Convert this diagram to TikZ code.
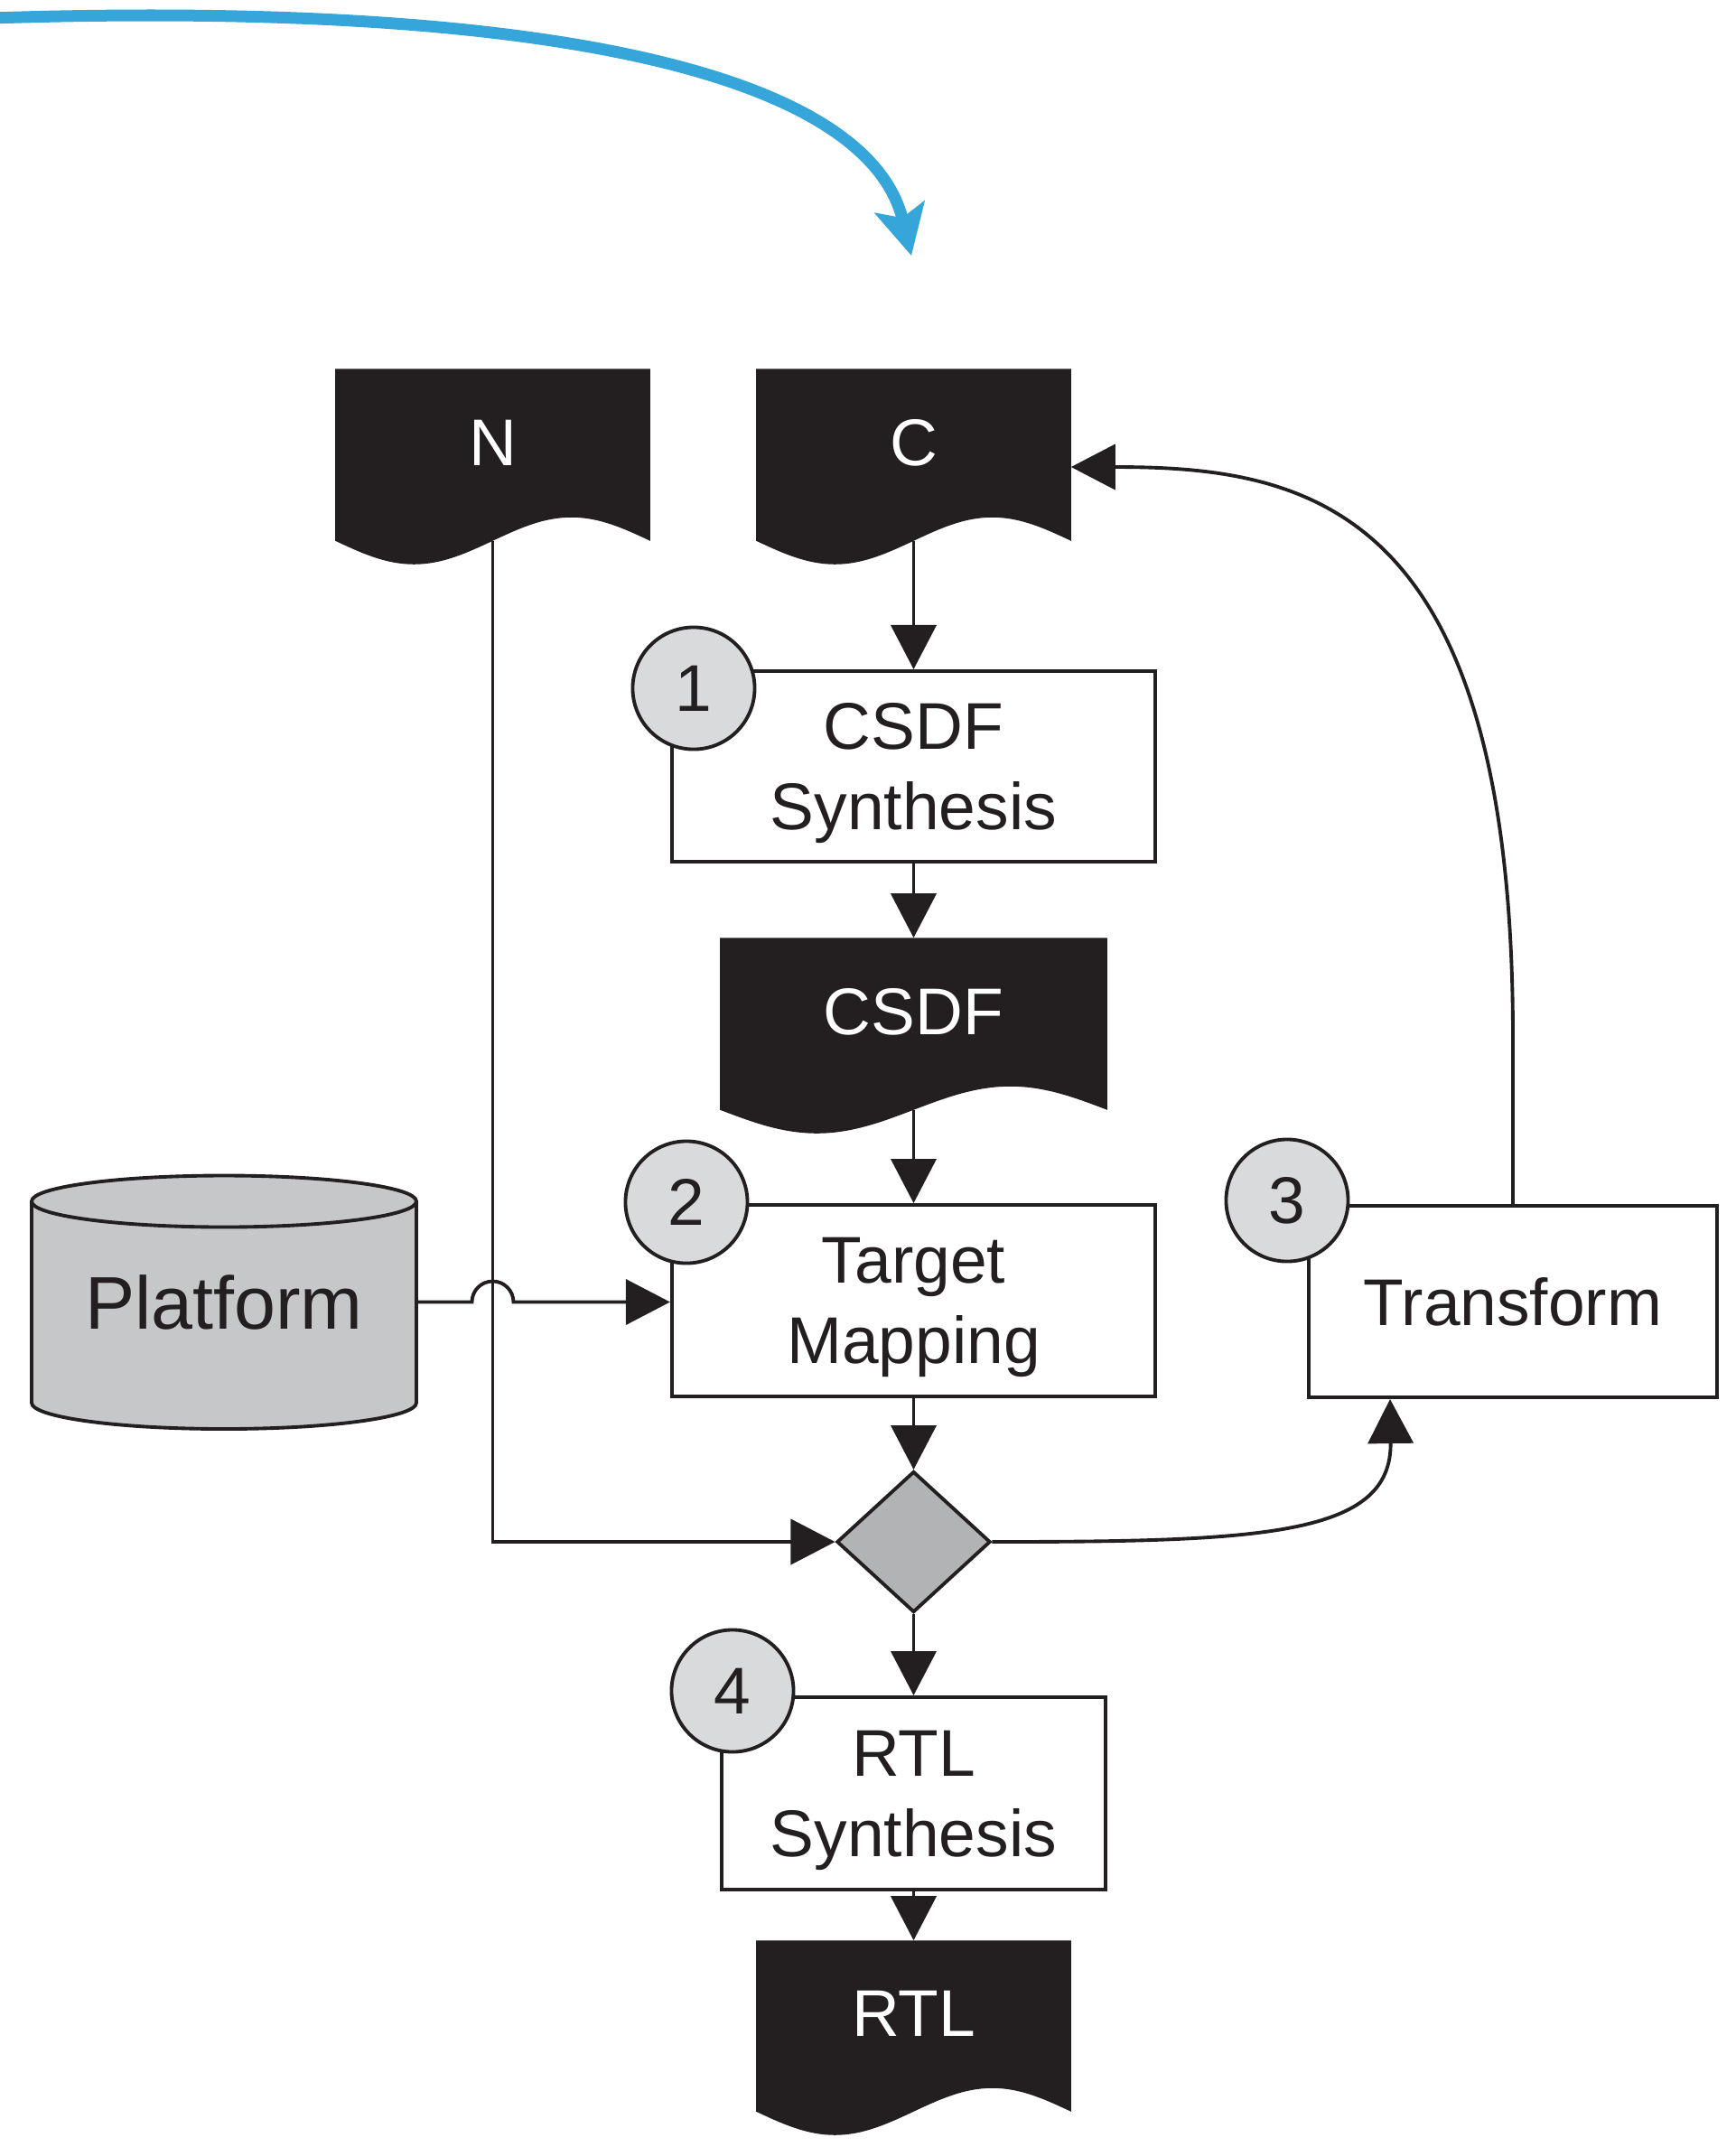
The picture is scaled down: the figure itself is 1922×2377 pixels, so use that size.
\documentclass[tikz,border=0pt]{standalone}
\usepackage{fontspec}
\setmainfont{Liberation Sans}
\usetikzlibrary{arrows.meta,shapes.geometric,backgrounds,calc}

\definecolor{ink}{HTML}{231F20}
\definecolor{badgegray}{HTML}{D9DADB}
\definecolor{decisiongray}{HTML}{B1B3B5}
\definecolor{storegray}{HTML}{C6C7C9}
\definecolor{flowblue}{HTML}{35A5DA}

% black document symbol with a wavy lower edge, under node #1
\newcommand\paperdoc[1]{%
  \fill[ink] (#1.south east) -- (#1.north east) -- (#1.north west) -- (#1.south west)
    sin ($(#1.south west)!0.25!(#1.south east)+(0,26)$)
    cos ($(#1.south west)!0.5!(#1.south east)$)
    sin ($(#1.south west)!0.75!(#1.south east)+(0,-26)$)
    cos (#1.south east) -- cycle;}

\begin{document}
\begin{tikzpicture}[x=0.01cm, y=-0.01cm,
  every node/.style={font=\fontsize{20.8}{25.3}\selectfont, text=ink},
  proc/.style={draw=ink, line width=1.1pt, fill=white, minimum height=2.12cm,
    inner sep=0, align=center},
  twoline/.style={text depth=0cm},
  numbadge/.style={circle, draw=ink, line width=1.1pt, fill=badgegray,
    minimum size=1.35cm, inner sep=0},
  docnode/.style={minimum height=1.89cm, inner sep=0, text=white,
    text height=0.53cm, text depth=0.30cm},
  flow/.style={draw=ink, line width=1.1pt, -{Triangle[length=0.49cm,width=0.5cm]}},
]
\useasboundingbox (0,0) rectangle (1922,2377);

% documents
\node[docnode, minimum width=3.47cm] (N) at (545.5,503.5) {N};
\node[docnode, minimum width=3.47cm] (C) at (1011.5,503.5) {C};
\node[docnode, minimum width=4.27cm] (csdf) at (1011.5,1133.5) {CSDF};
\node[docnode, minimum width=3.47cm, minimum height=1.88cm] (rtl) at (1011.5,2243) {RTL};

% process steps
\node[proc, twoline, minimum width=5.34cm, minimum height=2.11cm] (s1) at (1011.5,848.5) {CSDF\\Synthesis};
\node[proc, twoline, minimum width=5.35cm] (s2) at (1011.5,1440) {Target\\Mapping};
\node[proc, minimum width=4.52cm] (s3) at (1675,1441) {Transform};
\node[proc, twoline, minimum width=4.24cm, minimum height=2.13cm] (s4) at (1011.5,1985.5) {RTL\\Synthesis};

% decision
\node[diamond, draw=ink, line width=1.1pt, fill=decisiongray, aspect=1.09,
  minimum width=1.7cm, minimum height=1.56cm, inner sep=0] (dec) at (1011.5,1707) {};

% platform store
\node[minimum width=4.26cm, minimum height=2.23cm, inner sep=0,
  font=\fontsize{23.5}{28}\selectfont] (plat) at (248,1441.5) {Platform};

% step numbers
\node[numbadge] (b1) at (768,762) {1};
\node[numbadge] (b2) at (760,1331) {2};
\node[numbadge] (b3) at (1425,1329) {3};
\node[numbadge] (b4) at (811,1872) {4};

\begin{scope}[on background layer]
  \paperdoc{N}
  \paperdoc{C}
  \paperdoc{csdf}
  \paperdoc{rtl}
  \path[draw=ink, line width=1.1pt, fill=storegray]
    (35,1330) -- (35,1553) arc[start angle=180, end angle=0, x radius=213, y radius=29]
    -- (461,1330) arc[start angle=0, end angle=-180, x radius=213, y radius=28.5] -- cycle;
  \draw[ink, line width=1.1pt]
    (35,1330) arc[start angle=180, end angle=0, x radius=213, y radius=28.5];
\end{scope}

% main flow
\draw[flow] (C.south) -- (s1.north);
\draw[flow] (s1.south) -- (csdf.north);
\draw[flow] (csdf.south) -- (s2.north);
\draw[flow] (s2.south) -- (dec.north);
\draw[flow] (dec.south) -- (s4.north);
\draw[flow] (s4.south) -- (rtl.north);
\draw[flow] (N.south) |- (dec.west);

% platform input hopping over the N line
\coordinate (hop) at (N.south |- plat.east);
\draw[flow] (plat.east) -- ([xshift=-0.23cm]hop)
  arc[start angle=180, end angle=360, radius=23] -- (s2.west |- plat.east);

% loop back through Transform
\coordinate (s3in) at ([xshift=0.92cm]s3.south west);
\draw[flow] (dec.east) .. controls (1400,1707) and (1541,1700) .. (s3in);
\coordinate (cin) at ([yshift=-0.135cm]C.east);
\draw[flow] (s3.north) -- ++(0,-185) .. controls (1675,560) and (1450,517) .. (cin);

% incoming blue arrow
\coordinate (bs) at (-10,20);
\coordinate (be) at (1009,283);
\draw[flowblue, line width=0.13cm, -{Stealth[length=0.55cm,width=0.56cm,inset=0.12cm]}]
  (bs) .. controls (600,0) and (960,80) .. (be);
\end{tikzpicture}
\end{document}
